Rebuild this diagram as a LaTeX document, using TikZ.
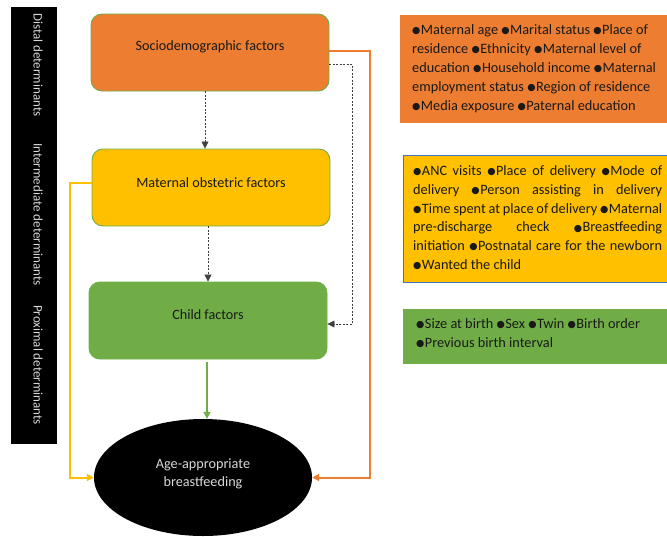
\documentclass[tikz,border=0pt]{standalone}
\usepackage{fontspec}
\setmainfont{Carlito}
\newfontfamily\dejavu{DejaVu Sans}
\usetikzlibrary{arrows.meta,shapes.geometric}
\definecolor{oran}{HTML}{ED7D31}
\definecolor{yell}{HTML}{FFC000}
\definecolor{gren}{HTML}{70AD47}
\definecolor{blu}{HTML}{4472C4}
\definecolor{dgray}{HTML}{404040}
\definecolor{lgray}{HTML}{D9D9D9}
\newcommand{\bul}{\raisebox{0.8pt}{\dejavu\fontsize{9.5}{9.5}\selectfont ●}\hspace{0.5pt}}
\tikzset{
  lbox/.style={rounded corners=11pt, line width=0.9pt, draw=gren, minimum width=238pt, minimum height=77pt, inner sep=0pt},
  ttl/.style={font=\fontsize{14.2}{17}\selectfont, text=black!90, inner sep=0pt},
  rbox/.style={inner sep=0pt, anchor=north west},
  rtext/.style={inner sep=0pt, anchor=north west, text=black!90},
  dash arrow/.style={draw=dgray, line width=0.8pt, dash pattern=on 2pt off 1.5pt, -{Triangle[length=7pt,width=7pt]}},
  col arrow/.style={line width=2pt, -{Triangle[length=7pt,width=7pt]}},
  barlbl/.style={rotate=-90, anchor=west, inner sep=0pt, text=lgray, font=\fontsize{13}{15}\selectfont}
}
\begin{document}
\begin{tikzpicture}[x=1pt,y=-1pt]
\useasboundingbox (0,0) rectangle (667,536);
% left black bar
\node[fill=black, minimum width=46pt, minimum height=437pt, inner sep=0pt] (bar) at (34,225.5) {};
\node[barlbl] (l1) at (38,13) {Distal determinants};
\node[barlbl] (l2) at (38,143) {Intermediate determinants};
\node[barlbl] (l3) at (38,305) {Proximal determinants};
% main boxes
\node[lbox, fill=oran] (soc) at (210,52.5) {};
\node[ttl] (soct) at (210,47) {Sociodemographic factors};
\node[lbox, fill=yell] (mat) at (211,187.5) {};
\node[ttl] (matt) at (211,183) {Maternal obstetric factors};
\node[lbox, fill=gren] (child) at (208,320.5) {};
\node[ttl] (childt) at (208,315) {Child factors};
\node[ellipse, fill=black, minimum width=218pt, minimum height=117pt, inner sep=0pt] (ell) at (203,477.5) {};
\node[ttl, text=lgray, align=center, font=\fontsize{14.2}{18}\selectfont] (ellt) at (203,474) {Age-appropriate\\breastfeeding};
% right boxes
\node[rbox, fill=oran, minimum width=267pt, minimum height=108pt] (rb1) at (400,15) {};
\node[rtext] (rt1) at (412,21.5) {\parbox[t]{252pt}{\raggedright\fontsize{14.3}{19}\selectfont\rule{0pt}{13pt}%
\bul Maternal age \bul Marital status \bul Place of\\
residence \bul Ethnicity \bul Maternal level of\\
education \bul Household income \bul Maternal\\
employment status \bul Region of residence\\
\bul Media exposure \bul Paternal education}};
\node[rbox, fill=yell, draw=blu, line width=0.8pt, minimum width=264pt, minimum height=127pt] (rb2) at (402.5,155) {};
\node[rtext] (rt2) at (413,162.5) {\parbox[t]{249pt}{\hyphenpenalty=10000\exhyphenpenalty=10000\fontsize{14.3}{18.7}\selectfont\rule{0pt}{13pt}%
\bul ANC visits \bul Place of delivery \bul Mode of\linebreak
delivery \bul Person assisting in delivery\linebreak
\bul Time spent at place of delivery \bul Maternal\linebreak
pre-discharge check \bul Breastfeeding\linebreak
initiation \bul Postnatal care for the newborn\linebreak
\bul Wanted the child}};
\node[rbox, fill=gren, minimum width=264pt, minimum height=55pt] (rb3) at (403,309) {};
\node[rtext] (rt3) at (416,315.5) {\parbox[t]{245pt}{\raggedright\fontsize{14.3}{19}\selectfont\rule{0pt}{13pt}%
\bul Size at birth \bul Sex \bul Twin \bul Birth order\\
\bul Previous birth interval}};
% connectors
\draw[dash arrow] ([xshift=-5pt]soc.south) -- ([xshift=-5pt]soc.south |- mat.north);
\draw[dash arrow] ([xshift=-3pt]mat.south) -- ([xshift=-3pt]mat.south |- child.north);
\draw[dash arrow] ([yshift=-11.5pt]soc.east) -- ++(23,0) |- ([yshift=-3.5pt]child.east);
\draw[col arrow, oran] ([yshift=1.5pt]soc.east) -- ++(41,0) |- (ell.east);
\draw[col arrow, yell] ([yshift=4.5pt]mat.west) -- ++(-22,0) |- (ell.west);
\draw[col arrow, gren] ([xshift=-1pt,yshift=-3pt]child.south) -- ([xshift=-1pt]child.south |- ell.north);
\end{tikzpicture}
\end{document}
